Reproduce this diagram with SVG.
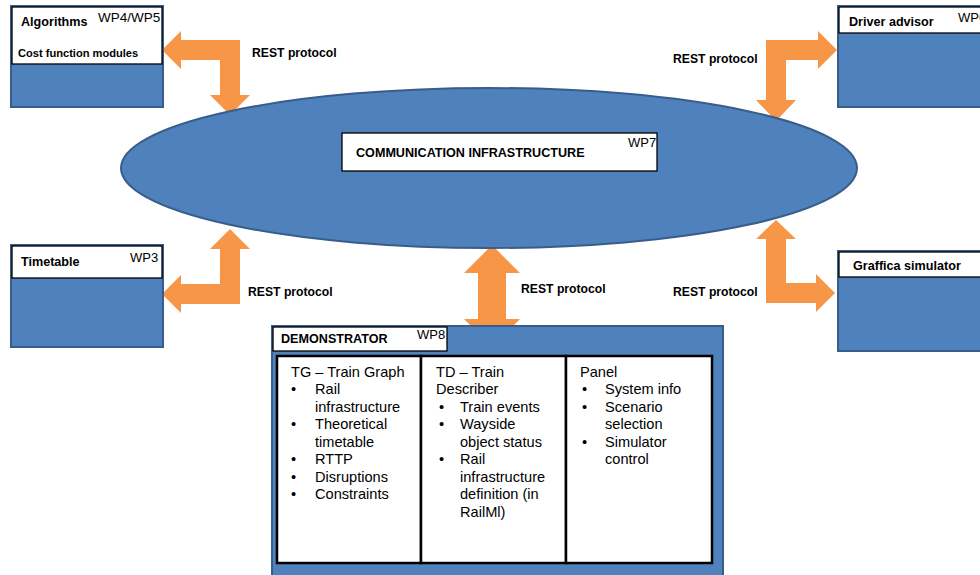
<svg xmlns="http://www.w3.org/2000/svg" width="980" height="575" viewBox="0 0 980 575">
<style>
.box{fill:#4F81BD;stroke:#385D8A;stroke-width:2}
.hdr{fill:#ffffff;stroke:#000000;stroke-width:1.3}
.col{fill:#ffffff;stroke:#000000;stroke-width:2.5}
.arr{fill:#F79646;stroke:none}
.b{font-family:"Liberation Sans",Arial,sans-serif;font-weight:bold;font-size:12.6px;fill:#000}
.rest{font-family:"Liberation Sans",Arial,sans-serif;font-weight:bold;font-size:12.2px;fill:#000}
.wp{font-family:"Liberation Sans",Arial,sans-serif;font-size:13px;fill:#000}
.t{font-family:"Liberation Sans",Arial,sans-serif;font-size:14.6px;fill:#000}
</style>
<rect width="980" height="575" fill="#ffffff"/>

<g id="connectors">
<path class="arr" d="M162,50 L181,31 L181,40 L240,40 L240,95 L250,95 L230,115 L210,95 L220,95 L220,60 L181,60 L181,69 Z"/>
<path class="arr" d="M837,50 L818,31 L818,40 L766,40 L766,100 L756,100 L776,121 L796,100 L786,100 L786,60 L818,60 L818,69 Z"/>
<path class="arr" d="M162,294 L181,275 L181,284 L220,284 L220,249 L210,249 L230,229 L250,249 L240,249 L240,304 L181,304 L181,313 Z"/>
<path class="arr" d="M835,293 L816,274 L816,283 L786,283 L786,239 L796,239 L776,220 L756,239 L766,239 L766,303 L816,303 L816,312 Z"/>
<path class="arr" d="M492,245 L520,273 L506,273 L506,319 L520,319 L492,347 L464,319 L478,319 L478,273 L464,273 Z"/>
<text class="rest" x="252" y="57">REST protocol</text>
<text class="rest" x="673" y="63">REST protocol</text>
<text class="rest" x="248" y="296">REST protocol</text>
<text class="rest" x="521" y="293">REST protocol</text>
<text class="rest" x="673" y="296">REST protocol</text>
</g>

<g id="comm">
<ellipse cx="489" cy="168" rx="368" ry="80" fill="#4F81BD" stroke="#385D8A" stroke-width="2"/>
<rect class="hdr" x="342" y="133" width="315" height="38"/>
<text class="b" x="356" y="157">COMMUNICATION INFRASTRUCTURE</text>
<text class="wp" x="628" y="147">WP7</text>
</g>

<g id="algorithms">
<rect class="box" x="11" y="6" width="152" height="101"/>
<rect class="hdr" x="12" y="7" width="150" height="57"/>
<text class="b" x="21" y="26">Algorithms</text>
<text class="wp" x="98" y="22" style="font-size:13.5px">WP4/WP5</text>
<text class="b" x="18" y="57" style="font-size:11.1px">Cost function modules</text>
</g>

<g id="driver">
<rect class="box" x="838" y="6" width="160" height="101"/>
<rect class="hdr" x="839" y="7" width="158" height="26"/>
<text class="b" x="849" y="26">Driver advisor</text>
<text class="wp" x="958" y="22">WP6</text>
</g>

<g id="timetable">
<rect class="box" x="11" y="245" width="152" height="102"/>
<rect class="hdr" x="12" y="246" width="150" height="32"/>
<text class="b" x="21" y="266">Timetable</text>
<text class="wp" x="130" y="262">WP3</text>
</g>

<g id="graffica">
<rect class="box" x="838" y="251" width="160" height="100"/>
<rect class="hdr" x="839" y="252" width="158" height="25"/>
<text class="b" x="853" y="270">Graffica simulator</text>
</g>

<g id="demonstrator">
<rect class="box" x="272" y="326" width="451" height="264"/>
<rect class="hdr" x="273" y="327" width="174" height="24"/>
<text class="b" x="281" y="343">DEMONSTRATOR</text>
<text class="wp" x="417" y="339">WP8</text>
<rect class="col" x="277" y="356" width="144" height="207"/>
<rect class="col" x="421" y="356" width="145" height="207"/>
<rect class="col" x="566" y="356" width="146" height="207"/>
<g class="t">
<text x="291" y="377">TG – Train Graph</text>
<text x="291" y="394">•</text><text x="315" y="394">Rail</text>
<text x="315" y="412">infrastructure</text>
<text x="291" y="429">•</text><text x="315" y="429">Theoretical</text>
<text x="315" y="447">timetable</text>
<text x="291" y="464">•</text><text x="315" y="464">RTTP</text>
<text x="291" y="482">•</text><text x="315" y="482">Disruptions</text>
<text x="291" y="499">•</text><text x="315" y="499">Constraints</text>

<text x="436" y="377">TD – Train</text>
<text x="436" y="394">Describer</text>
<text x="439" y="412">•</text><text x="460" y="412">Train events</text>
<text x="439" y="429">•</text><text x="460" y="429">Wayside</text>
<text x="460" y="447">object status</text>
<text x="439" y="464">•</text><text x="460" y="464">Rail</text>
<text x="460" y="482">infrastructure</text>
<text x="460" y="499">definition (in</text>
<text x="460" y="517">RailMl)</text>

<text x="580" y="377">Panel</text>
<text x="582" y="394">•</text><text x="605" y="394">System info</text>
<text x="582" y="412">•</text><text x="605" y="412">Scenario</text>
<text x="605" y="429">selection</text>
<text x="582" y="447">•</text><text x="605" y="447">Simulator</text>
<text x="605" y="464">control</text>
</g>
</g>
</svg>
